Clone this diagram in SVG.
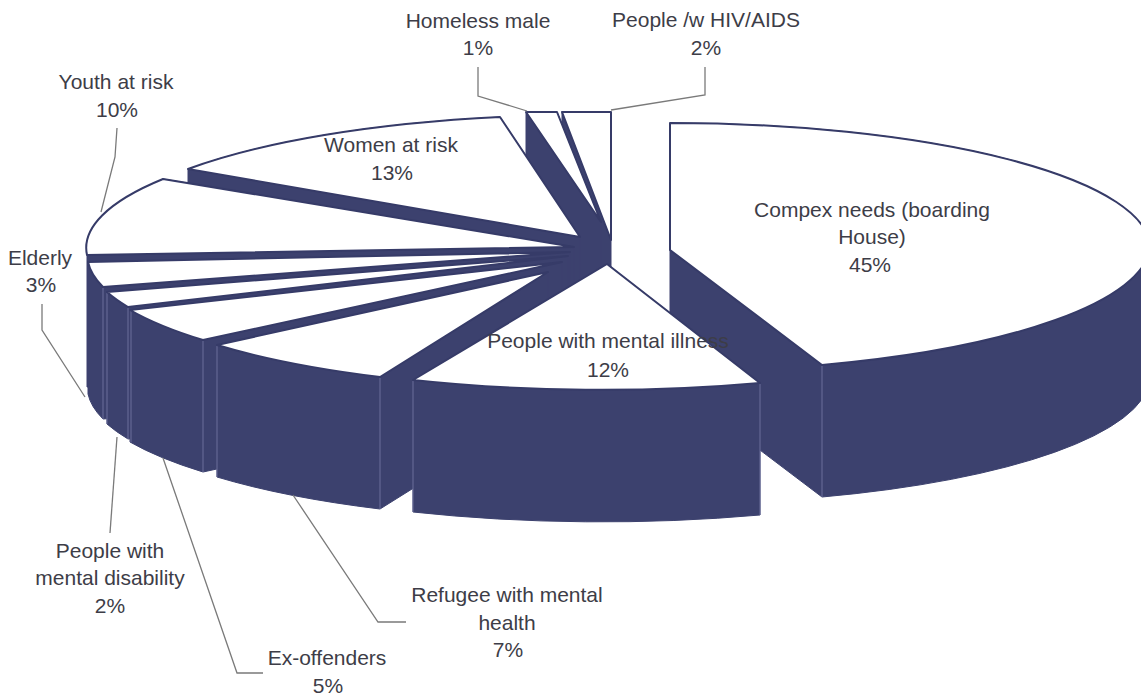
<svg xmlns="http://www.w3.org/2000/svg" width="1141" height="697" viewBox="0 0 1141 697">
<style>
.body{fill:#3c416e;stroke:#3c416e;stroke-width:1;stroke-linejoin:round}
.top{fill:#ffffff;stroke:#363b68;stroke-width:2;stroke-linejoin:round}
.edge{stroke:#6a6f9a;stroke-width:1;fill:none}
.lbl{font-family:"Liberation Sans",Arial,sans-serif;font-size:21px;fill:#3d3d47;text-anchor:middle}
.lead{stroke:#7a7a7a;stroke-width:1.3;fill:none}
</style>
<rect width="1141" height="697" fill="#ffffff"/>
<g id="slice-hiv">
<path class="body" d="M562,112 L611,112 L611,372 L562,244 Z"/>
<path class="top" d="M562,112 L611,112 L611,240 Z"/>
</g>
<g id="slice-homeless">
<path class="body" d="M526,112 L557,112 L601,222 L601,354 L526,244 Z"/>
<path class="top" d="M526,112 L557,112 L601,222 Z"/>
</g>
<g id="slice-women">
<path class="body" d="M188,169 A490,128 0 0 1 500,117 L580,237 L580,369 L188,301 Z"/>
<path class="top" d="M188,169 A490,128 0 0 1 500,117 L580,237 Z"/>
</g>
<g id="slice-youth">
<path class="body" d="M574,247 L163,179 A490,128 0 0 0 87,255 L87,387 L574,379 Z"/>
<path class="top" d="M574,247 L163,179 A490,128 0 0 0 87,255 Z"/>
</g>
<g id="slice-elderly">
<path class="body" d="M570,252 L88,262 L88,394 A490,128 0 0 0 103,419 L570,384 Z"/>
<line class="edge" x1="103" y1="288" x2="103" y2="419"/>
<path class="top" d="M570,252 L88,262 A490,128 0 0 0 103,287 Z"/>
</g>
<g id="slice-disability">
<path class="body" d="M568,256 L107,292 L107,424 A490,128 0 0 0 128,439 L568,388 Z"/>
<line class="edge" x1="107" y1="293" x2="107" y2="424"/>
<line class="edge" x1="128" y1="308" x2="128" y2="439"/>
<path class="top" d="M568,256 L107,292 A490,128 0 0 0 128,307 Z"/>
</g>
<g id="slice-exoffenders">
<path class="body" d="M562,262 L130,310 L130,442 A490,128 0 0 0 203,472 L562,394 Z"/>
<line class="edge" x1="131" y1="311" x2="131" y2="442"/>
<line class="edge" x1="203" y1="341" x2="203" y2="472"/>
<path class="top" d="M562,262 L130,310 A490,128 0 0 0 203,340 Z"/>
</g>
<g id="slice-refugee">
<path class="body" d="M548,272 L217,345 L217,477 A490,128 0 0 0 380,509 L548,404 Z"/>
<line class="edge" x1="217" y1="346" x2="217" y2="477"/>
<line class="edge" x1="380" y1="378" x2="380" y2="509"/>
<path class="top" d="M548,272 L217,345 A490,128 0 0 0 380,377 Z"/>
</g>
<g id="slice-compex">
<path class="body" d="M670,123 A480,125 0 0 1 1150,248 L1150,380 A480,128 0 0 1 822,497 L670,382 Z"/>
<line class="edge" x1="822" y1="366" x2="822" y2="497"/>
<path class="top" d="M670,250 L670,123 A480,125 0 0 1 1150,248 A480,128 0 0 1 822,365 Z"/>
</g>
<g id="slice-mental-illness">
<path class="body" d="M607,264 L413,380 L413,512 A490,128 0 0 0 760,515 L760,383 Z"/>
<line class="edge" x1="413" y1="381" x2="413" y2="512"/>
<line class="edge" x1="760" y1="384" x2="760" y2="515"/>
<path class="top" d="M607,264 L413,380 A490,128 0 0 0 760,383 Z"/>
</g>
<g id="connectors">
<polyline class="lead" points="478,67 478,96 527,111"/>
<polyline class="lead" points="705,67 705,95 611,110"/>
<polyline class="lead" points="117,128 115,157 101,212"/>
<polyline class="lead" points="42,304 42,330 85,397"/>
<polyline class="lead" points="117,437 110,533"/>
<polyline class="lead" points="163,458 237,673 263,673"/>
<polyline class="lead" points="293,495 378,622 406,622"/>
</g>
<g id="labels">
<g id="label-homeless"><text class="lbl" x="478" y="28">Homeless male</text><text class="lbl" x="478" y="55">1%</text></g>
<g id="label-hiv"><text class="lbl" x="706" y="27">People /w HIV/AIDS</text><text class="lbl" x="706" y="55">2%</text></g>
<g id="label-youth"><text class="lbl" x="116" y="89">Youth at risk</text><text class="lbl" x="117" y="117">10%</text></g>
<g id="label-women"><text class="lbl" x="391" y="152">Women at risk</text><text class="lbl" x="392" y="180">13%</text></g>
<g id="label-elderly"><text class="lbl" x="40" y="265">Elderly</text><text class="lbl" x="41" y="292">3%</text></g>
<g id="label-disability"><text class="lbl" x="110" y="558">People with</text><text class="lbl" x="110" y="585">mental disability</text><text class="lbl" x="110" y="613">2%</text></g>
<g id="label-exoffenders"><text class="lbl" x="327" y="665">Ex-offenders</text><text class="lbl" x="328" y="693">5%</text></g>
<g id="label-refugee"><text class="lbl" x="507" y="602">Refugee with mental</text><text class="lbl" x="507" y="630">health</text><text class="lbl" x="508" y="657">7%</text></g>
<g id="label-compex"><text class="lbl" x="872" y="217">Compex needs (boarding</text><text class="lbl" x="872" y="244">House)</text><text class="lbl" x="870" y="272">45%</text></g>
<g id="label-mental-illness"><text class="lbl" x="608" y="348">People with mental illness</text><text class="lbl" x="608" y="377">12%</text></g>
</g>
</svg>
